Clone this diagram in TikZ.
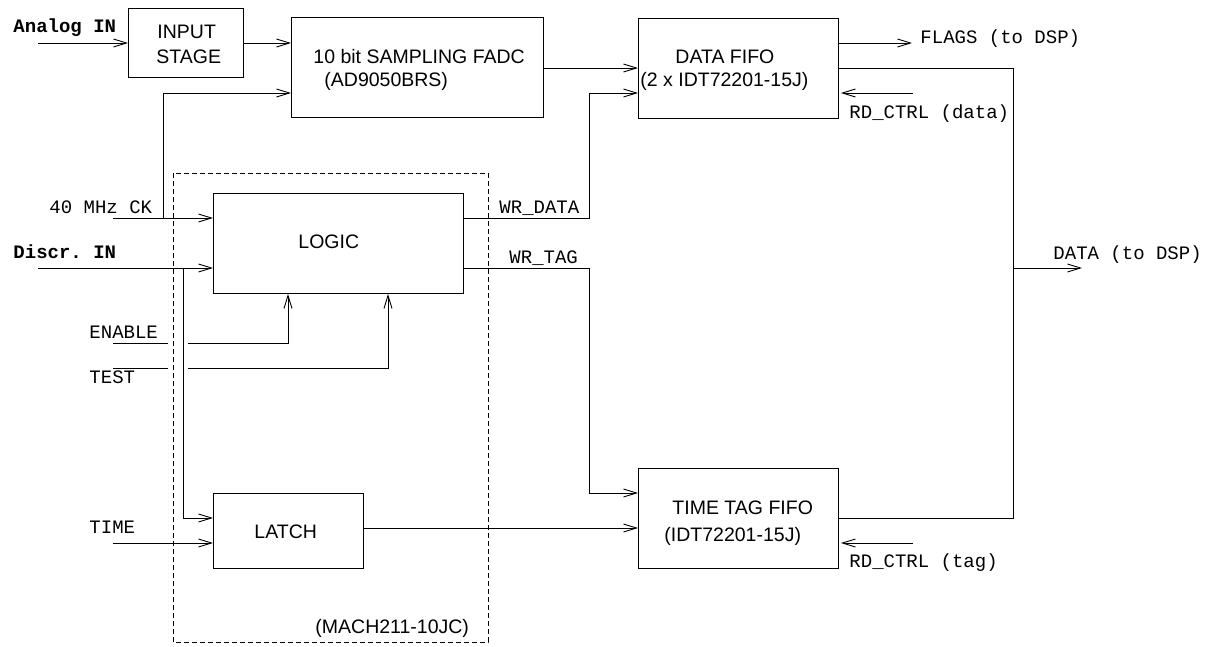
\documentclass[tikz,border=0pt]{standalone}
\usepackage{fontspec}
\setmainfont{Liberation Sans}
\setmonofont{Liberation Mono}
\usetikzlibrary{arrows.meta}
\begin{document}
\begin{tikzpicture}[x=1pt,y=-1pt,
  line width=0.9pt,
  box/.style={draw, line width=0.9pt, anchor=north west, inner sep=0pt},
  sans/.style={anchor=base west, inner sep=0pt, font=\fontsize{19.5}{23}\selectfont},
  mono/.style={anchor=base west, inner sep=0pt, font=\fontsize{19}{23}\ttfamily},
  monob/.style={anchor=base west, inner sep=0pt, font=\fontsize{19}{23}\ttfamily\bfseries},
  arr/.style={-{Straight Barb[length=13pt,width=8pt,line width=0.9pt]}},
  grp/.style={draw, dash pattern=on 5pt off 3pt, line width=0.9pt}
]
\useasboundingbox (0,0) rectangle (1217,646);

% group box
\draw[grp] (173,173) rectangle (488,642);

% boxes
\node[box, minimum width=115pt, minimum height=69pt] (instage) at (128,8) {};
\node[box, minimum width=252pt, minimum height=100pt] (fadc) at (291,17) {};
\node[box, minimum width=200pt, minimum height=100pt] (dfifo) at (638,18) {};
\node[box, minimum width=250pt, minimum height=100pt] (logic) at (213,193) {};
\node[box, minimum width=150pt, minimum height=75pt] (latch) at (213,493) {};
\node[box, minimum width=200pt, minimum height=100pt] (tfifo) at (638,468) {};

% box texts
\node[sans] (t1) at (157,38) {INPUT};
\node[sans] (t2) at (156,63) {STAGE};
\node[sans] (t3) at (313,63) {10 bit SAMPLING FADC};
\node[sans] (t4) at (324,86) {(AD9050BRS)};
\node[sans] (t5) at (675,63) {DATA FIFO};
\node[sans] (t6) at (640,86) {(2 x IDT72201-15J)};
\node[sans] (t7) at (298,248) {LOGIC};
\node[sans] (t8) at (254,538) {LATCH};
\node[sans] (t9) at (315,633) {(MACH211-10JC)};
\node[sans] (t10) at (672,514) {TIME TAG FIFO};
\node[sans] (t11) at (664,541) {(IDT72201-15J)};

% signal labels
\node[monob] (lain) at (13,32) {Analog IN};
\node[monob] (ldis) at (13,258) {Discr. IN};
\node[mono] (lck) at (49,213) {40 MHz CK};
\node[mono] (len) at (89,338) {ENABLE};
\node[mono] (ltest) at (89,383) {TEST};
\node[mono] (ltime) at (89,533) {TIME};
\node[mono] (lwrd) at (499,213) {WR\_DATA};
\node[mono] (lwrt) at (509,263) {WR\_TAG};
\node[mono] (lflags) at (920,43) {FLAGS (to DSP)};
\node[mono] (lrdd) at (849,118) {RD\_CTRL (data)};
\node[mono] (lrdt) at (849,567) {RD\_CTRL (tag)};
\node[mono] (ldata) at (1053,259) {DATA (to DSP)};

% coordinates
\coordinate (ain) at (38,43);
\coordinate (ck) at (113,218);
\coordinate (ckj) at (163,218);
\coordinate (ya) at (0,93);
\coordinate (dis) at (38,268);
\coordinate (disj) at (183,268);
\coordinate (yl) at (0,518);
\coordinate (time) at (113,543);
\coordinate (en0) at (113,343);
\coordinate (en1) at (168,343);
\coordinate (en2) at (188,343);
\coordinate (te0) at (113,368);
\coordinate (te1) at (168,368);
\coordinate (te2) at (188,368);
\coordinate (enx) at (288,0);
\coordinate (tex) at (388,0);
\coordinate (wrd) at (589,218);
\coordinate (wrt) at (589,268);
\coordinate (yt) at (0,493);
\coordinate (ylat) at (0,528);
\coordinate (yf) at (0,43);
\coordinate (flags) at (912,43);
\coordinate (dat) at (1013,68);
\coordinate (datj) at (1013,268);
\coordinate (dato) at (1082,268);
\coordinate (rdd) at (913,93);
\coordinate (rdt) at (913,543);

% connectors
\draw[arr] (ain) -- (instage.west |- ain);
\draw[arr] (instage.east |- ain) -- (fadc.west |- ain);
\draw[arr] (fadc.east |- 0,68) -- (dfifo.west |- 0,68);
\draw[arr] (ck) -- (logic.west |- ck);
\draw[arr] (ckj) |- (fadc.west |- ya);
\draw[arr] (dis) -- (logic.west |- dis);
\draw[arr] (disj) |- (latch.west |- yl);
\draw[arr] (time) -- (latch.west |- time);
\draw (en0) -- (en1);
\draw[arr] (en2) -| (enx |- logic.south);
\draw (te0) -- (te1);
\draw[arr] (te2) -| (tex |- logic.south);
\draw[arr] (logic.east |- wrd) -- (wrd) |- (dfifo.west |- ya);
\draw[arr] (logic.east |- wrt) -- (wrt) |- (tfifo.west |- yt);
\draw[arr] (latch.east |- ylat) -- (tfifo.west |- ylat);
\draw[arr] (dfifo.east |- yf) -- (flags);
\draw (dfifo.east |- dat) -- (dat) -- (dat |- tfifo.east) -- (tfifo.east);
\draw[arr] (datj) -- (dato);
\draw[arr, shorten >=2pt] (rdd) -- (dfifo.east |- rdd);
\draw[arr, shorten >=2pt] (rdt) -- (tfifo.east |- rdt);
\end{tikzpicture}
\end{document}
